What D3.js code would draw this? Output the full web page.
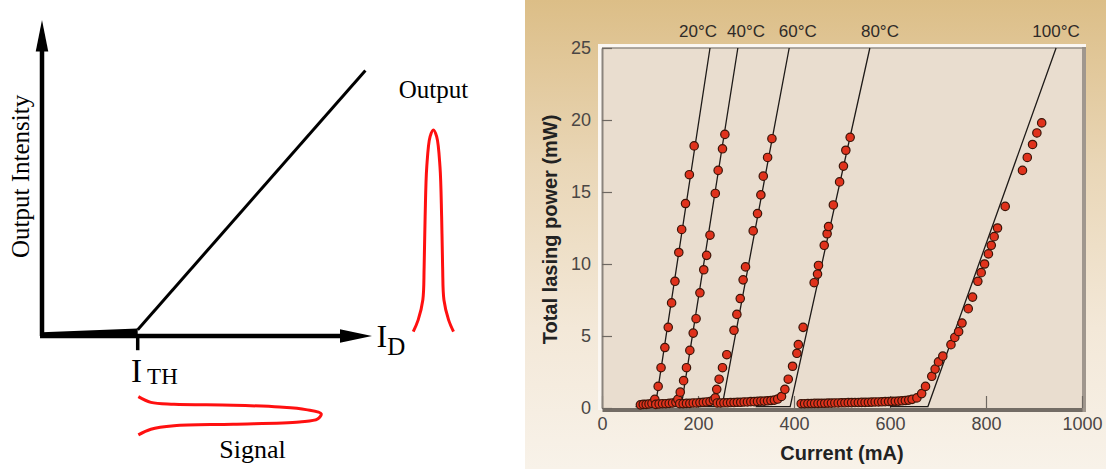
<!DOCTYPE html>
<html>
<head>
<meta charset="utf-8">
<script src="https://cdn.jsdelivr.net/npm/d3@7"></script>
<style>
  body { margin: 0; background: #fff; }
  svg { display: block; }
</style>
</head>
<body>
<script>
var width = 1106,
    height = 469;

// ---- schematic (left), in arbitrary units 0..100 ----
var ith = 29;
var liCurve = [[ith, 2], [98, 84]];
var subWedge = [[0, 0], [0, 1.2], [ith, 2.4], [ith, 0]];
var outPulseAt = 118.6;
var outPulse = [[-6.1, 1.4], [-4.6, 5.1], [-3.2, 11.4], [-2.8, 21.9], [-2.5, 37.8], [-2, 53.6], [-1, 63.1], [0, 65.2],
                [1, 63.1], [2, 53.6], [2.5, 37.8], [2.8, 21.9], [3.2, 11.4], [4.6, 5.1], [6.1, 1.4]];
var signalPulse = [[29.2, -19.2], [33, -21], [40, -21.6], [57.9, -21.9], [72, -22.5], [80, -23.3], [84.6, -24.6],
                   [83.5, -26.3], [78, -27.2], [57.9, -27.9], [40, -28.4], [33, -29.5], [29.2, -31.3]];

// ---- measured chart (right) ----
var temps = ["20°C", "40°C", "60°C", "80°C", "100°C"];
var tempLabelAt = [200, 300, 408, 579, 946];   // mA where each label sits
var fitStart = [70, 120, 190, 320, 600];       // mA, flat part of each fit
var fitThreshold = [111, 165, 250, 392, 679];  // mA at 0 mW
var fitTop = [225, 283, 390, 558, 946];        // mA at 25 mW
var xTicks = [0, 200, 400, 600, 800, 1000];
var yTicks = [0, 5, 10, 15, 20, 25];

var pts20 = [[80, 0.22], [86, 0.25], [92, 0.25], [98, 0.28], [104, 0.32],
  [110, 0.6], [117, 1.5], [123, 2.8], [131, 4.2], [138, 5.6], [145, 7.3], [152, 8.8],
  [160, 10.8], [166, 12.4], [174, 14.2], [182, 16.2], [192, 18.2]];
var pts40 = [[112, 0.25], [119, 0.28], [126, 0.3], [133, 0.3], [140, 0.32], [147, 0.35], [154, 0.4], [158, 0.6],
  [163, 1.1], [170, 1.9], [176, 2.8], [183, 4.0], [190, 5.2], [196, 6.2], [204, 8.0], [212, 9.6],
  [218, 10.6], [225, 12.0], [236, 14.9], [242, 16.5], [251, 18.0], [256, 19.0]];
var pts60 = [[162, 0.3], [169, 0.3], [176, 0.32], [183, 0.32], [190, 0.35], [197, 0.35], [204, 0.38],
  [211, 0.4], [218, 0.42], [225, 0.45], [232, 0.55], [236, 0.7],
  [239, 1.3], [244, 2.0], [251, 2.8], [260, 3.7], [275, 5.4], [281, 6.5], [288, 7.6], [294, 8.9],
  [299, 9.8], [315, 12.3], [324, 13.5], [331, 14.8], [336, 16.1], [345, 17.4], [354, 18.7]];
var pts80 = [[240, 0.35], [247, 0.35], [254, 0.36], [261, 0.36], [268, 0.38], [275, 0.38], [282, 0.4],
  [289, 0.4], [296, 0.42], [303, 0.42], [310, 0.44], [317, 0.44], [324, 0.46], [331, 0.48], [338, 0.48],
  [345, 0.5], [352, 0.52], [359, 0.55], [366, 0.62],
  [374, 0.8], [381, 1.3], [388, 2.0], [397, 2.9], [406, 3.8], [409, 4.4], [419, 5.6], [442, 8.7],
  [449, 9.3], [451, 9.9], [463, 11.3], [469, 12.1], [472, 12.6], [482, 14.1], [495, 15.7],
  [503, 16.8], [508, 17.9], [517, 18.8]];
var pts100 = [[415, 0.3], [422, 0.3], [429, 0.31], [436, 0.31], [443, 0.32], [450, 0.32], [457, 0.33],
  [464, 0.33], [471, 0.34], [478, 0.34], [485, 0.35], [492, 0.35], [499, 0.36], [506, 0.36], [513, 0.37],
  [520, 0.37], [527, 0.38], [534, 0.38], [541, 0.39], [548, 0.39], [555, 0.4], [562, 0.41], [569, 0.42],
  [576, 0.42], [583, 0.43], [590, 0.44], [597, 0.45], [604, 0.46], [611, 0.47], [618, 0.48], [625, 0.5],
  [632, 0.52], [639, 0.55], [646, 0.6],
  [656, 0.7], [666, 1.0], [674, 1.5], [687, 2.2], [694, 2.7], [701, 3.2], [710, 3.6], [727, 4.4],
  [735, 4.9], [743, 5.3], [750, 5.9], [763, 6.9], [772, 7.7], [783, 8.8], [790, 9.4], [797, 10.0],
  [805, 10.7], [811, 11.3], [817, 11.9], [824, 12.5], [840, 14.0], [876, 16.5], [886, 17.4],
  [897, 18.3], [906, 19.1], [916, 19.8]];
var series = [pts20, pts40, pts60, pts80, pts100];

var svg = d3.select("body").append("svg")
    .attr("width", width)
    .attr("height", height);

var defs = svg.append("defs");
var grad = defs.append("linearGradient")
    .attr("id", "panelBg")
    .attr("x1", 0).attr("y1", 0).attr("x2", 0).attr("y2", 1);
grad.append("stop").attr("offset", "0%").attr("stop-color", "#dcbe87");
grad.append("stop").attr("offset", "35%").attr("stop-color", "#e9d6b6");
grad.append("stop").attr("offset", "70%").attr("stop-color", "#f3e8d8");
grad.append("stop").attr("offset", "100%").attr("stop-color", "#f8f2e9");

svg.append("rect")
    .attr("width", width).attr("height", height)
    .attr("fill", "#fff");

// ================= left schematic =================
var sx = d3.scaleLinear().domain([0, 100]).range([42, 372]);
var sy = d3.scaleLinear().domain([0, 100]).range([336, 20]);
var sline = d3.line().x(function(d) { return sx(d[0]); }).y(function(d) { return sy(d[1]); });

var left = svg.append("g");

left.append("path")
    .attr("d", sline([[0, 0], [0, 91]]))
    .attr("stroke", "#000").attr("stroke-width", 4.5).attr("fill", "none");
left.append("path")
    .attr("d", sline([[-1.9, 90], [0, 100], [1.9, 90]]) + "Z")
    .attr("fill", "#000");
left.append("path")
    .attr("d", sline([[-0.6, 0], [91, 0]]))
    .attr("stroke", "#000").attr("stroke-width", 4.5).attr("fill", "none");
left.append("path")
    .attr("d", sline([[90.3, 2.1], [100, 0], [90.3, -2.1]]) + "Z")
    .attr("fill", "#000");

left.append("path")
    .attr("d", sline(subWedge) + "Z")
    .attr("fill", "#000");
left.append("path")
    .attr("d", sline(liCurve))
    .attr("stroke", "#000").attr("stroke-width", 3).attr("fill", "none");
left.append("path")
    .attr("d", sline([[ith, 0], [ith, -4.5]]))
    .attr("stroke", "#000").attr("stroke-width", 3.5).attr("fill", "none");

left.append("path")
    .attr("d", d3.line()
        .x(function(d) { return sx(outPulseAt + d[0]); })
        .y(function(d) { return sy(d[1]); })
        .curve(d3.curveCatmullRom)(outPulse))
    .attr("stroke", "#ff1010").attr("stroke-width", 3).attr("fill", "none");
left.append("path")
    .attr("d", sline.curve(d3.curveCatmullRom)(signalPulse))
    .attr("stroke", "#ff1010").attr("stroke-width", 3).attr("fill", "none");

var serif = "'Liberation Serif', 'DejaVu Serif', serif";
left.append("text")
    .attr("transform", "translate(" + (sx(0) - 13.3) + "," + sy(50.5) + ")rotate(-90)")
    .attr("text-anchor", "middle")
    .style("font-family", serif).style("font-size", "25px")
    .text("Output Intensity");
left.append("text")
    .attr("x", sx(118.6)).attr("y", sy(75.2))
    .attr("text-anchor", "middle")
    .style("font-family", serif).style("font-size", "25px")
    .text("Output");
var idLabel = left.append("text")
    .attr("x", sx(101.4)).attr("y", sy(-3.4))
    .style("font-family", serif).style("font-size", "32px");
idLabel.append("tspan").text("I");
idLabel.append("tspan").attr("dy", 8).style("font-size", "25px").text("D");
var ithLabel = left.append("text")
    .attr("x", sx(27)).attr("y", sy(-14.7))
    .style("font-family", serif).style("font-size", "33px");
ithLabel.append("tspan").text("I");
ithLabel.append("tspan").attr("dx", 5).attr("dy", 2).style("font-size", "23px").text("TH");
left.append("text")
    .attr("x", sx(63.8)).attr("y", sy(-38.6))
    .attr("text-anchor", "middle")
    .style("font-family", serif).style("font-size", "26px")
    .text("Signal");

// ================= right chart =================
var sans = "'Liberation Sans', Arial, Helvetica, sans-serif";
svg.append("rect")
    .attr("x", 525).attr("y", 0)
    .attr("width", width - 525).attr("height", height)
    .attr("fill", "url(#panelBg)");

var x = d3.scaleLinear().domain([0, 1000]).range([602, 1082]);
var y = d3.scaleLinear().domain([0, 25]).range([408, 48]);

// frame highlight + plot area
svg.append("rect")
    .attr("x", x(0) - 4).attr("y", y(25) - 4)
    .attr("width", x(1000) - x(0) + 8).attr("height", y(0) - y(25) + 6)
    .attr("fill", "#fbf7f2");
svg.append("rect")
    .attr("x", x(0)).attr("y", y(25))
    .attr("width", x(1000) - x(0)).attr("height", y(0) - y(25))
    .attr("fill", "#e9ddcf");

// right and top borders
svg.append("line")
    .attr("x1", x(1000) + 2).attr("x2", x(1000) + 2)
    .attr("y1", y(25) - 1).attr("y2", y(0) + 4)
    .attr("stroke", "#a0978e").attr("stroke-width", 4);
svg.append("line")
    .attr("x1", x(0)).attr("x2", x(1000) + 4)
    .attr("y1", y(25)).attr("y2", y(25))
    .attr("stroke", "#958e86").attr("stroke-width", 1.5);

// axes
var xAxis = d3.axisBottom(x)
    .tickValues(xTicks)
    .tickFormat(d3.format("d"))
    .tickSize(-12)
    .tickSizeOuter(0)
    .tickPadding(9);
var gx = svg.append("g")
    .attr("transform", "translate(0," + y(0) + ")")
    .call(xAxis);
gx.select(".domain").attr("stroke", "#736c65").attr("stroke-width", 4)
    .attr("transform", "translate(0,1.5)");
gx.selectAll(".tick line").attr("stroke", "#6e6862").attr("stroke-width", 1.2);
gx.selectAll(".tick text")
    .attr("fill", "#4a4644")
    .style("font-family", sans).style("font-size", "18px");

var yAxis = d3.axisLeft(y)
    .tickValues(yTicks)
    .tickSize(-10)
    .tickSizeOuter(0)
    .tickPadding(11);
var gy = svg.append("g")
    .attr("transform", "translate(" + x(0) + ",0)")
    .call(yAxis);
gy.select(".domain").attr("stroke", "#8b847d").attr("stroke-width", 2);
gy.selectAll(".tick line").attr("stroke", "#6e6862").attr("stroke-width", 1.2);
gy.selectAll(".tick text")
    .attr("fill", "#4a4644")
    .style("font-family", sans).style("font-size", "18px");

// fit lines
var line = d3.line()
    .x(function(d) { return x(d[0]); })
    .y(function(d) { return y(d[1]); });
svg.append("g").selectAll("path")
    .data(temps)
    .enter().append("path")
    .attr("d", function(d, i) {
      return line([[fitStart[i], 0.1], [fitThreshold[i], 0.1], [fitTop[i], 25]]);
    })
    .attr("fill", "none")
    .attr("stroke", "#1e1a18")
    .attr("stroke-width", 1.3);

// measured points
svg.append("g").selectAll("g")
    .data(series)
    .enter().append("g")
    .selectAll("circle")
    .data(function(d) { return d; })
    .enter().append("circle")
    .attr("cx", function(d) { return x(d[0]); })
    .attr("cy", function(d) { return y(d[1]); })
    .attr("r", 4.2)
    .attr("fill", "#e0321c")
    .attr("stroke", "#3c1408")
    .attr("stroke-width", 1.2);

// temperature labels
svg.append("g").selectAll("text")
    .data(temps)
    .enter().append("text")
    .attr("x", function(d, i) { return x(tempLabelAt[i]); })
    .attr("y", 37)
    .attr("text-anchor", "middle")
    .attr("fill", "#2e2a28")
    .style("font-family", sans).style("font-size", "17px")
    .text(function(d) { return d; });

// axis titles
svg.append("text")
    .attr("transform", "translate(557," + y(12.4) + ")rotate(-90)")
    .attr("text-anchor", "middle")
    .attr("fill", "#222")
    .style("font-family", sans).style("font-size", "20px").style("font-weight", "bold")
    .text("Total lasing power (mW)");
svg.append("text")
    .attr("x", x(500)).attr("y", 460)
    .attr("text-anchor", "middle")
    .attr("fill", "#222")
    .style("font-family", sans).style("font-size", "20px").style("font-weight", "bold")
    .text("Current (mA)");
</script>
</body>
</html>
